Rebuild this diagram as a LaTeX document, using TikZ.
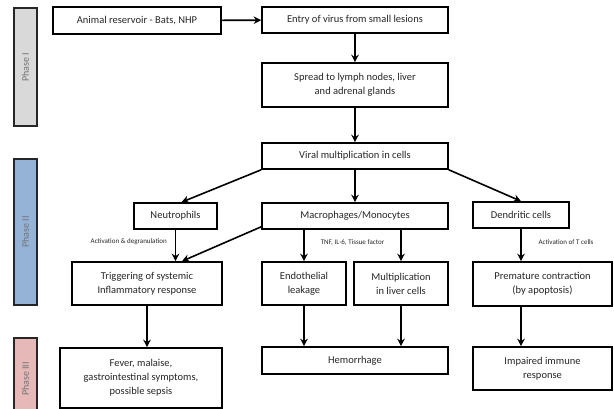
\documentclass[tikz,border=0pt]{standalone}
\usepackage{fontspec}
\setmainfont{Carlito}
\usetikzlibrary{arrows.meta}
\definecolor{phasegray}{HTML}{D9D9D9}
\definecolor{phaseblue}{HTML}{95B3D7}
\definecolor{phasepink}{HTML}{E6B9B8}
\definecolor{txt}{HTML}{262626}
\begin{document}
\begin{tikzpicture}[x=1pt,y=-1pt,
  box/.style={draw=black, line width=1.6pt, align=center, inner sep=0pt,
    font=\fontsize{10.5}{14}\selectfont, text=txt},
  arr/.style={line width=1.6pt, -{Stealth[length=7.5pt,width=7.5pt]}},
  lbl/.style={font=\fontsize{7}{8}\selectfont, inner sep=0pt, text=txt},
  phase/.style={draw=black!85, line width=1.6pt, rotate=90, inner sep=0pt,
    font=\fontsize{10}{11}\selectfont, text=black!55, minimum height=23pt}
]
\useasboundingbox (0,0) rectangle (614,409);
% phase bars
\node[phase, fill=phasegray, minimum width=118pt] (p1) at (25.5,67) {Phase I};
\node[phase, fill=phaseblue, minimum width=146pt] (p2) at (25.5,232) {Phase II};
\node[phase, fill=phasepink, minimum width=82pt] (p3) at (25.5,379) {Phase III};
% boxes
\node[box, minimum width=168pt, minimum height=27pt] (animal) at (137,20.5) {Animal reservoir - Bats, NHP};
\node[box, minimum width=186pt, minimum height=26pt] (entry) at (355,20) {Entry of virus from small lesions};
\node[box, minimum width=186pt, minimum height=44pt] (spread) at (355,85) {Spread to lymph nodes, liver\\and adrenal glands};
\node[box, minimum width=186pt, minimum height=26pt] (viral) at (355,156) {Viral multiplication in cells};
\node[box, minimum width=83pt, minimum height=26pt] (neutro) at (175.5,216) {Neutrophils};
\node[box, minimum width=186pt, minimum height=26pt] (macro) at (355,216) {Macrophages/Monocytes};
\node[box, minimum width=96pt, minimum height=26pt] (dendr) at (521,215) {Dendritic cells};
\node[box, minimum width=150pt, minimum height=43pt] (trig) at (147,283.5) {Triggering of systemic\\Inflammatory response};
\node[box, minimum width=84pt, minimum height=43pt] (endo) at (304,283.5) {Endothelial\\leakage};
\node[box, minimum width=94pt, minimum height=43pt] (mult) at (401,283.5) {Multiplication\\in liver cells};
\node[box, minimum width=139pt, minimum height=44pt] (prem) at (542.5,284) {Premature contraction\\(by apoptosis)};
\node[box, minimum width=162pt, minimum height=60pt] (fever) at (141,378) {Fever, malaise,\\gastrointestinal symptoms,\\possible sepsis};
\node[box, minimum width=186pt, minimum height=27pt] (hemo) at (355,360.5) {Hemorrhage};
\node[box, minimum width=139pt, minimum height=43pt] (impair) at (542.5,368.5) {Impaired immune\\response};
% labels
\node[lbl, anchor=east] (lneu) at (167,242) {Activation \& degranulation};
\node[lbl] (lmac) at (352.5,243) {TNF, IL-6, Tissue factor};
\node[lbl] (lden) at (566,242) {Activation of T cells};
% arrows
\draw[arr] (animal) -- (entry);
\draw[arr] (entry) -- (spread);
\draw[arr] (spread) -- (viral);
\draw[arr] (viral.south west) -- ([xshift=6pt]neutro.north);
\draw[arr] (viral) -- (macro);
\draw[arr] (viral.south east) -- (dendr.north);
\draw[arr] (neutro.south) -- (neutro.south |- trig.north);
\draw[arr] ([yshift=3pt]macro.south west) -- ([xshift=35pt]trig.north);
\draw[arr] (endo.north |- macro.south) -- (endo.north);
\draw[arr] (mult.north |- macro.south) -- (mult.north);
\draw[arr] (dendr.south) -- (dendr.south |- prem.north);
\draw[arr] (trig.south) -- (trig.south |- fever.north);
\draw[arr] (endo.south) -- (endo.south |- hemo.north);
\draw[arr] (mult.south) -- (mult.south |- hemo.north);
\draw[arr] (dendr.south |- prem.south) -- (dendr.south |- impair.north);
\end{tikzpicture}
\end{document}
